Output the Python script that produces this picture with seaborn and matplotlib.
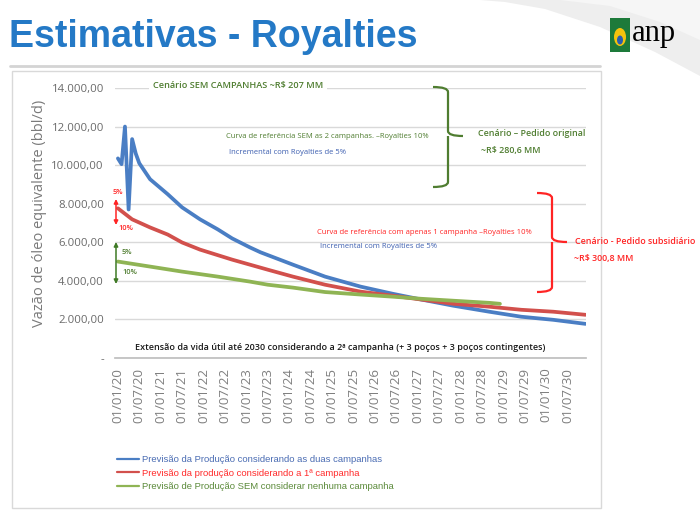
import pandas as pd
import seaborn as sns
import matplotlib.pyplot as plt
from matplotlib.path import Path
from matplotlib.patches import PathPatch, Rectangle, Polygon, Ellipse, FancyArrowPatch
from matplotlib.lines import Line2D
from matplotlib.transforms import Affine2D

# Data: months after 01/01/2020 and flow (bbl/d)
blue_months = [0, 1, 2, 3, 4, 5, 6, 9, 14, 18, 23, 28, 32, 37, 40, 49, 58, 68, 77, 85, 94, 104, 113, 122, 131]
blue_values = [10350, 10050, 12000, 7700, 11350, 10600, 10100, 9270, 8490, 7810, 7190, 6670, 6200, 5730, 5480,
               4840, 4220, 3700, 3330, 3030, 2710, 2400, 2140, 1980, 1770]
red_months = [0, 4, 9, 14, 18, 23, 32, 42, 49, 58, 68, 77, 85, 94, 104, 113, 122, 131]
red_values = [7760, 7190, 6770, 6400, 5990, 5620, 5100, 4580, 4220, 3800, 3440, 3230, 3030, 2810,
              2660, 2500, 2400, 2240]
green_months = [0, 9, 18, 28, 37, 42, 49, 58, 68, 77, 85, 94, 104, 107]
green_values = [5000, 4740, 4480, 4220, 3960, 3800, 3650, 3420, 3290, 3180, 3070, 2970, 2860, 2810]

series_labels = ["Previsão da Produção considerando as duas campanhas",
                 "Previsão da produção considerando a 1ª campanha",
                 "Previsão de Produção SEM considerar nenhuma campanha"]
line_colors = ["#4a7ec4", "#d2504c", "#8fb454"]
legend_text_colors = ["#4a6cb3", "#ff2b2b", "#5b8a3a"]

y_ticks = [0, 2000, 4000, 6000, 8000, 10000, 12000, 14000]
y_tick_labels = ["-", "2.000,00", "4.000,00", "6.000,00", "8.000,00", "10.000,00", "12.000,00", "14.000,00"]
x_tick_dates = pd.date_range("2020-01-01", "2030-07-01", freq="6MS")

month_index = pd.date_range("2020-01-01", periods=132, freq="MS")
frames = []
for months, values, label in zip([blue_months, red_months, green_months],
                                 [blue_values, red_values, green_values], series_labels):
    frames.append(pd.DataFrame({"data": month_index[months], "vazao": values, "serie": label}))
df = pd.concat(frames, ignore_index=True)

sns.set_theme(style="white")
plt.rcParams["font.family"] = ["Open Sans", "DejaVu Sans"]

fig = plt.figure(figsize=(7, 5.16), dpi=100)
# pixel coordinates, origin at top-left of the slide
T = Affine2D().scale(1 / 700, -1 / 516).translate(0, 1) + fig.transFigure

# slide decorations
fig.add_artist(Polygon([(480, 0), (700, 0), (700, 76), (655, 52), (600, 27), (545, 9), (505, 2)],
                       closed=True, facecolor="#eeeeee", edgecolor="none", transform=T))
fig.add_artist(Polygon([(560, 0), (700, 0), (700, 40), (660, 22), (610, 6)],
                       closed=True, facecolor="#f6f6f6", edgecolor="none", transform=T))
fig.text(9, 37, "Estimativas - Royalties", transform=T, va="center", ha="left",
         fontsize=27, fontweight="bold", color="#2479c6",
         family=["Liberation Sans Narrow", "Liberation Sans"])
fig.add_artist(Rectangle((610, 18), 20, 34, facecolor="#1d7a3a", edgecolor="none", transform=T))
fig.add_artist(Ellipse((620, 37), 12, 18, facecolor="#f4c20d", edgecolor="none", transform=T))
fig.add_artist(Ellipse((620, 40), 6, 9, facecolor="#2a5db0", edgecolor="none", transform=T))
fig.text(632, 33, "anp", transform=T, va="center", ha="left", fontsize=22, color="black",
         family=["Liberation Serif", "DejaVu Serif"])
fig.add_artist(Line2D([10, 600], [66, 66], color="#d4d4d4", lw=2, transform=T))
fig.add_artist(Rectangle((12, 71), 589, 437, fill=False, edgecolor="#d9d9d9", lw=1, transform=T))

ax = fig.add_axes([115 / 700, 1 - 358 / 516, (586 - 115) / 700, (358 - 88) / 516])
sns.lineplot(data=df, x="data", y="vazao", hue="serie", hue_order=series_labels,
             palette=line_colors, linewidth=2.7, ax=ax, legend=False)

ax.set_xlim(pd.Timestamp("2019-12-07"), pd.Timestamp("2030-12-05"))
ax.set_ylim(0, 14000)
ax.set_yticks(y_ticks)
ax.set_yticklabels(y_tick_labels)
ax.set_xticks(x_tick_dates)
ax.set_xticklabels([d.strftime("%d/%m/%y") for d in x_tick_dates], rotation=90)
ax.tick_params(axis="y", length=0, pad=8, labelsize=8.2, labelcolor="#6a6a6a")
ax.tick_params(axis="x", length=4, color="#bfbfbf", width=1, pad=3, labelsize=9.5, labelcolor="#7f7f7f")
ax.yaxis.grid(True, color="#d9d9d9", lw=1)
ax.set_axisbelow(True)
for side in ["top", "right", "left"]:
    ax.spines[side].set_visible(False)
ax.spines["bottom"].set_color("#bfbfbf")
ax.set_xlabel("")
ax.set_ylabel("")
fig.text(40, 213, "Vazão de óleo equivalente (bbl/d)", transform=T, rotation=90,
         va="center", ha="center", fontsize=10.5, color="#7a7a7a")

# legend written under the axis
handles = [Line2D([], [], color=c, lw=1.6) for c in line_colors]
leg = ax.legend(handles, series_labels, loc="upper left", bbox_to_anchor=(117 / 700, 1 - 455 / 516),
                bbox_transform=fig.transFigure, frameon=False, borderpad=0, borderaxespad=0,
                handlelength=2.3, handletextpad=0.3, labelspacing=0.48,
                prop={"family": ["Liberation Sans", "DejaVu Sans"], "size": 6.8})
for txt, c in zip(leg.get_texts(), legend_text_colors):
    txt.set_color(c)


def brace(x0, xs, xt, ytop, ybot, ymid, color):
    r = 5
    verts = [(x0, ytop), (xs, ytop), (xs, ytop + r), (xs, ymid - r), (xs, ymid), (xt, ymid),
             (xs, ymid), (xs, ymid + r), (xs, ybot - r), (xs, ybot), (x0, ybot)]
    codes = [Path.MOVETO, Path.CURVE3, Path.CURVE3, Path.LINETO, Path.CURVE3, Path.CURVE3,
             Path.MOVETO, Path.CURVE3, Path.LINETO, Path.CURVE3, Path.CURVE3]
    fig.add_artist(PathPatch(Path(verts, codes), fill=False, edgecolor=color, lw=1.6, transform=T))


green_dark = "#4f7d30"
red_txt = "#ff2424"
blue_txt = "#3d5fb0"

fig.text(238, 85, "Cenário SEM CAMPANHAS ~R$ 207 MM", transform=T, ha="center", va="center",
         fontsize=6.6, fontweight="semibold", color=green_dark,
         bbox=dict(facecolor="white", edgecolor="none", pad=2.5))
brace(433, 448, 463, 87, 187, 136, green_dark)
fig.text(478, 133, "Cenário – Pedido original", transform=T, ha="left", va="center",
         fontsize=6.4, fontweight="semibold", color=green_dark)
fig.text(481, 150, "~R$ 280,6 MM", transform=T, ha="left", va="center",
         fontsize=6.4, fontweight="semibold", color=green_dark)
fig.text(226, 137, "Curva de referência SEM as 2 campanhas. –Royalties 10%", transform=T,
         ha="left", va="center", fontsize=5.5, color=green_dark)
fig.text(229, 152, "Incremental com Royalties de 5%", transform=T,
         ha="left", va="center", fontsize=5.5, color=blue_txt)

brace(537, 552, 567, 193, 292, 242, red_txt)
fig.text(575, 242, "Cenário - Pedido subsidiário", transform=T, ha="left", va="center",
         fontsize=6.4, fontweight="semibold", color=red_txt)
fig.text(574, 259, "~R$ 300,8 MM", transform=T, ha="left", va="center",
         fontsize=6.4, fontweight="semibold", color=red_txt)
fig.text(317, 232, "Curva de referência com apenas 1 campanha –Royalties 10%", transform=T,
         ha="left", va="center", fontsize=5.5, color=red_txt)
fig.text(320, 246, "Incremental com Royalties de 5%", transform=T,
         ha="left", va="center", fontsize=5.5, color=blue_txt)

fig.text(135, 347, "Extensão da vida útil até 2030 considerando a 2ª campanha (+ 3 poços + 3 poços contingentes)",
         transform=T, ha="left", va="center", fontsize=6.45, fontweight="semibold", color="#1a1a1a")

# royalty arrows at the start of the curves
for (ya, yb), c in [((199, 225), "#ff2424"), ((242, 284), "#3f7a25")]:
    fig.add_artist(FancyArrowPatch((116, ya), (116, yb), arrowstyle="<|-|>", mutation_scale=6,
                                   color=c, lw=1.1, shrinkA=0, shrinkB=0, transform=T))
fig.text(118, 193, "5%", transform=T, ha="center", va="center", fontsize=5.3,
         fontweight="semibold", color="#ff2424")
fig.text(125.5, 228, "10%", transform=T, ha="center", va="center", fontsize=5.3,
         fontweight="semibold", color="#ff2424")
fig.text(126.5, 253, "5%", transform=T, ha="center", va="center", fontsize=5.3,
         fontweight="semibold", color="#4f7d30")
fig.text(129.5, 273, "10%", transform=T, ha="center", va="center", fontsize=5.3,
         fontweight="semibold", color="#4f7d30")

fig.savefig("out.png", dpi=100)
